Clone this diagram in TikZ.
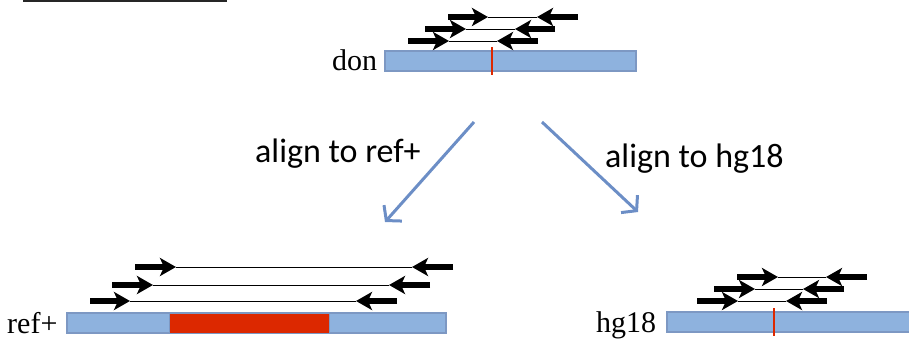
\documentclass[tikz,border=0pt]{standalone}
\usepackage{fontspec}
\setmainfont{Liberation Serif}
\newfontfamily\calib{Carlito}
\usetikzlibrary{arrows.meta}
\definecolor{barblue}{RGB}{142,178,222}
\definecolor{baredge}{RGB}{125,152,195}
\definecolor{varred}{RGB}{220,40,0}
\definecolor{flowblue}{RGB}{108,142,198}
\tikzset{
  bar/.style={fill=barblue,draw=baredge,line width=1.5pt},
  redblock/.style={fill=varred,draw=baredge,line width=1pt},
  redmark/.style={draw=varred,line width=2pt},
  readhead/.style={line width=5.5pt,-{Stealth[length=16pt,width=18pt,inset=4pt]}},
  readlink/.style={line width=1pt},
  flow/.style={draw=flowblue,line width=3pt,-{Straight Barb[length=10pt,width=24pt]}},
  seqlabel/.style={font=\fontsize{30}{31}\selectfont,inner sep=0pt,anchor=base west},
  steplabel/.style={font=\calib\fontsize{34}{36}\selectfont,inner sep=0pt,anchor=base west},
}
\newcommand{\readpair}[5]{% y, start, lefttip, righttip, end
  \draw[readhead] (#2,#1) -- (#3,#1);
  \draw[readhead] (#5,#1) -- (#4,#1);
  \draw[readlink] (#3,#1) -- (#4,#1);
}
\begin{document}
\begin{tikzpicture}[x=1pt,y=-1pt]
\path[use as bounding box,clip] (0,0) rectangle (909,341);
% top rule
\coordinate (tl) at (23,0.8);
\coordinate (tr) at (227,0.8);
\draw[line width=1.6pt,black!85] (tl) -- (tr);

% donor
\node[seqlabel] (donlab) at (332,70) {don};
\draw[bar] (385,51) rectangle (636,71);
\draw[redmark] (492,47) -- (492,75);
\readpair{17}{448}{488}{537}{578}
\readpair{29}{425}{466}{515}{555}
\readpair{41}{408}{449}{497}{538}

% flow arrows
\coordinate (la) at (474,122);
\coordinate (lb) at (385,222);
\coordinate (ra) at (542,122);
\coordinate (rb) at (638,212);
\draw[flow] (la) -- (lb);
\draw[flow] (ra) -- (rb);
\node[steplabel] (s1) at (255,162) {align to ref+};
\node[steplabel] (s2) at (605,167) {align to hg18};

% ref+
\node[seqlabel] (reflab) at (7,333) {ref+};
\draw[bar] (67,313) rectangle (446,333);
\draw[redblock] (169,313) rectangle (329,333);
\readpair{267}{135}{176}{412}{453}
\readpair{285}{112}{153}{389}{430}
\readpair{301}{90}{130}{356}{397}

% hg18
\node[seqlabel] (hglab) at (596,332) {hg18};
\draw[bar] (667,312) rectangle (915,332);
\draw[redmark] (774,308) -- (774,336);
\readpair{277}{737}{778}{826}{867}
\readpair{289}{714}{755}{803}{844}
\readpair{301}{697}{738}{786}{827}
\end{tikzpicture}
\end{document}
